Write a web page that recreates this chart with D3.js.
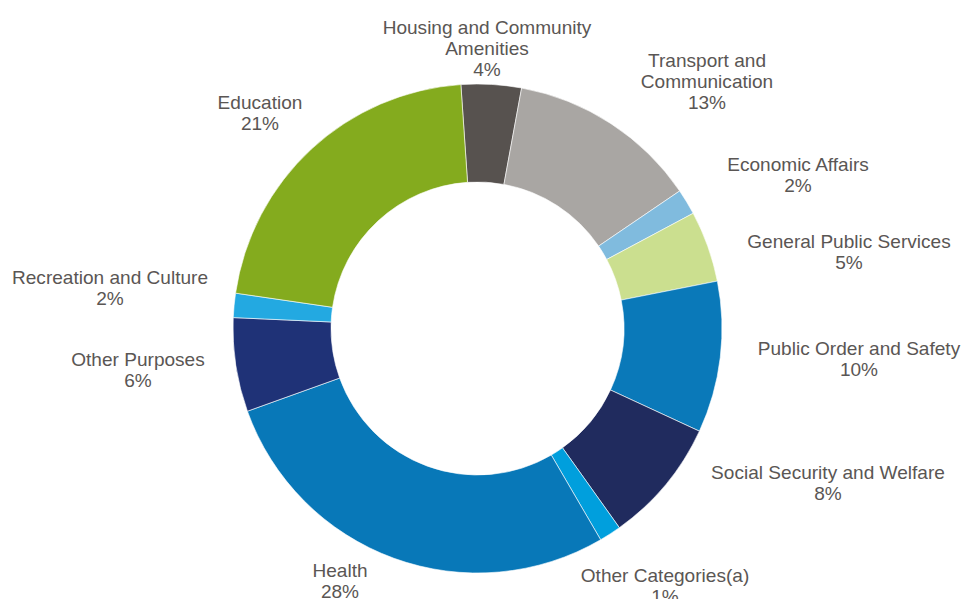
<!DOCTYPE html>
<html>
<head>
<meta charset="utf-8">
<script src="https://cdn.jsdelivr.net/npm/d3@7"></script>
<style>
  html, body { margin: 0; padding: 0; background: #ffffff; }
  svg { display: block; }
</style>
</head>
<body>
<div id="chart"></div>
<script>
// ---- data ----
const categories = [
  "Housing and Community Amenities",
  "Transport and Communication",
  "Economic Affairs",
  "General Public Services",
  "Public Order and Safety",
  "Social Security and Welfare",
  "Other Categories(a)",
  "Health",
  "Other Purposes",
  "Recreation and Culture",
  "Education"
];
const shares = [3.97, 12.6, 1.7, 4.7, 10.0, 8.25, 1.45, 27.9, 6.2, 1.6, 21.6];
const percentLabels = ["4%", "13%", "2%", "5%", "10%", "8%", "1%", "28%", "6%", "2%", "21%"];

// ---- label text lines (wrapping as in the reference) ----
const labelLines = [
  ["Housing and Community", "Amenities"],
  ["Transport and", "Communication"],
  ["Economic Affairs"],
  ["General Public Services"],
  ["Public Order and Safety"],
  ["Social Security and Welfare"],
  ["Other Categories(a)"],
  ["Health"],
  ["Other Purposes"],
  ["Recreation and Culture"],
  ["Education"]
];

// ---- layout / style (kept separate from data) ----
const colors = ["#57524f", "#a9a6a3", "#80bbde", "#cbdf8f", "#0a79b9", "#202b5e",
                "#009fdd", "#0878b8", "#1f3277", "#23a9e1", "#84ab1e"];
const labelAnchors = [
  [487, 34], [707, 67], [798, 171], [849, 248], [859, 355], [828, 479],
  [665, 582], [340, 577], [138, 366], [110, 284], [260, 109]
];
const width = 961, height = 599;
const cx = 477.5, cy = 328.5, outerR = 244.5, innerR = 146.5;
const startAngle = -3.9 * Math.PI / 180;
const lineH = 21;

const svg = d3.select("#chart").append("svg")
  .attr("width", width).attr("height", height);

const pie = d3.pie().sort(null).value(d => d)
  .startAngle(startAngle).endAngle(startAngle + 2 * Math.PI);
const arc = d3.arc().innerRadius(innerR).outerRadius(outerR);

const arcs = pie(shares);
svg.append("g").attr("transform", `translate(${cx},${cy})`)
  .selectAll("path").data(arcs).join("path")
  .attr("d", arc)
  .attr("fill", (d, i) => colors[i])
  .attr("stroke", "#ffffff")
  .attr("stroke-width", 0.6);

const lg = svg.append("g")
  .attr("font-family", "'Liberation Sans', Arial, sans-serif")
  .attr("font-size", 18)
  .attr("fill", "#5a5654");

categories.forEach((c, i) => {
  const [x, y] = labelAnchors[i];
  const g = lg.append("g").attr("transform", `translate(${x},${y}) scale(1.06,1)`);
  const lines = labelLines[i].concat([percentLabels[i]]);
  g.selectAll("text").data(lines).join("text")
    .attr("x", 0)
    .attr("y", (d, k) => k * lineH)
    .attr("text-anchor", "middle")
    .text(d => d);
});
</script>
</body>
</html>
